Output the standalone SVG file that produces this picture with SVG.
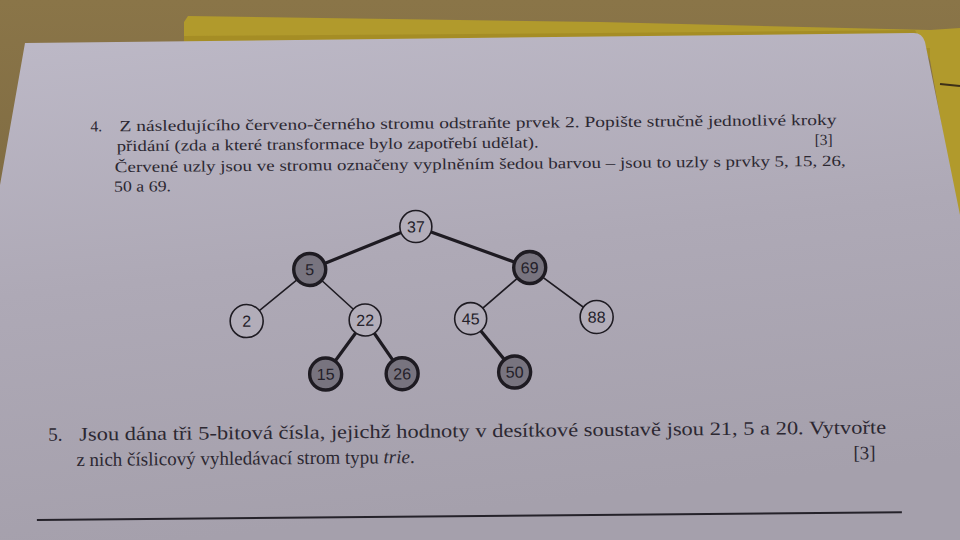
<svg xmlns="http://www.w3.org/2000/svg" width="960" height="540" viewBox="0 0 960 540">
  <defs>
    <linearGradient id="bg" x1="0" y1="0" x2="0" y2="1">
      <stop offset="0" stop-color="#8a7548"/>
      <stop offset="1" stop-color="#6f5d3a"/>
    </linearGradient>
    <linearGradient id="paper" x1="0" y1="0" x2="0.2" y2="1">
      <stop offset="0" stop-color="#bdb9c7"/>
      <stop offset="0.5" stop-color="#aea9b6"/>
      <stop offset="1" stop-color="#a5a0ac"/>
    </linearGradient>
    <style>
      .q4 { font-family: "Liberation Serif", "DejaVu Serif", "Times New Roman", serif; font-size: 15.5px; fill: #2c2832; }
      .q5 { font-family: "Liberation Serif", "DejaVu Serif", "Times New Roman", serif; font-size: 19px; fill: #2c2832; }
      .edge { stroke: #1e1b22; stroke-linecap: round; fill: none; }
      .thin { stroke-width: 1.6; }
      .thick { stroke-width: 3.2; }
      .blk circle { fill: #b2adb9; stroke: #1e1b22; stroke-width: 1.6; }
      .red circle { fill: #78747f; stroke: #1e1b22; stroke-width: 3.4; }
      .lbl { font-family: "Liberation Sans", Arial, sans-serif; font-size: 16px; fill: #24212a; text-anchor: middle; }
    </style>
  </defs>

  <!-- background -->
  <rect x="0" y="0" width="960" height="540" fill="url(#bg)"/>
  <!-- yellow folder behind the sheet -->
  <polygon points="184,22 188,16 600,22 930,30 960,28 960,230 930,60 920,40 184,46" fill="#b19a2c"/>
  <polygon points="184,46 184,36 600,33 915,30 930,60 930,48 600,40" fill="#9d8622" opacity="0.6"/>
  <line x1="940" y1="84" x2="960" y2="86" stroke="#3d3018" stroke-width="2"/>

  <!-- sheet of paper -->
  <path d="M25,43 L912,33 Q922,32 925,42 L960,215 L960,540 L0,540 L0,185 Z" fill="url(#paper)"/>

  <g transform="rotate(-0.5 480 300)">
    <!-- question 4 -->
    <g id="q4">
      <text class="q4" x="92" y="128">4.</text>
      <text class="q4" x="121" y="128" textLength="717" lengthAdjust="spacingAndGlyphs">Z následujícího červeno-černého stromu odstraňte prvek 2. Popište stručně jednotlivé kroky</text>
      <text class="q4" x="118" y="148" textLength="422" lengthAdjust="spacingAndGlyphs">přidání (zda a které transformace bylo zapotřebí udělat).</text>
      <text class="q4" x="816" y="148">[3]</text>
      <text class="q4" x="116" y="169" textLength="731" lengthAdjust="spacingAndGlyphs">Červené uzly jsou ve stromu označeny vyplněním šedou barvou – jsou to uzly s prvky 5, 15, 26,</text>
      <text class="q4" x="115" y="188.5" textLength="57" lengthAdjust="spacingAndGlyphs">50 a 69.</text>
    </g>

    <!-- connectors -->
    <g id="edges">
      <line class="edge thick" x1="416.5" y1="226" x2="310" y2="268"/>
      <line class="edge thick" x1="416.5" y1="226" x2="530" y2="268"/>
      <line class="edge thin" x1="310" y1="268" x2="246.5" y2="319"/>
      <line class="edge thin" x1="310" y1="268" x2="365" y2="319"/>
      <line class="edge thin" x1="530" y1="268" x2="470.5" y2="318.5"/>
      <line class="edge thin" x1="530" y1="268" x2="596.5" y2="318"/>
      <line class="edge thick" x1="365" y1="319" x2="325" y2="372.7"/>
      <line class="edge thick" x1="365" y1="319" x2="401.5" y2="373"/>
      <line class="edge thick" x1="470.5" y1="318.5" x2="514" y2="372.3"/>
    </g>

    <!-- nodes -->
    <g id="n37" class="blk"><circle cx="416.5" cy="226" r="16"/><text class="lbl" x="416.5" y="231.8">37</text></g>
    <g id="n5" class="red"><circle cx="310" cy="268" r="16"/><text class="lbl" x="310" y="273.8">5</text></g>
    <g id="n69" class="red"><circle cx="530" cy="268" r="16"/><text class="lbl" x="530" y="273.8">69</text></g>
    <g id="n2" class="blk"><circle cx="246.5" cy="319" r="16.5"/><text class="lbl" x="246.5" y="324.8">2</text></g>
    <g id="n22" class="blk"><circle cx="365" cy="319" r="16"/><text class="lbl" x="365" y="324.8">22</text></g>
    <g id="n45" class="blk"><circle cx="470.5" cy="318.5" r="16"/><text class="lbl" x="470.5" y="324.3">45</text></g>
    <g id="n88" class="blk"><circle cx="596.5" cy="318" r="16.5"/><text class="lbl" x="596.5" y="323.8">88</text></g>
    <g id="n15" class="red"><circle cx="325" cy="372.7" r="16"/><text class="lbl" x="325" y="378.5">15</text></g>
    <g id="n26" class="red"><circle cx="401.5" cy="373" r="16"/><text class="lbl" x="401.5" y="378.8">26</text></g>
    <g id="n50" class="red"><circle cx="514" cy="372.3" r="16"/><text class="lbl" x="514" y="378.1">50</text></g>

    <!-- question 5 -->
    <g id="q5">
      <text class="q5" x="47" y="437">5.</text>
      <text class="q5" x="78" y="437" textLength="807" lengthAdjust="spacingAndGlyphs">Jsou dána tři 5-bitová čísla, jejichž hodnoty v desítkové soustavě jsou 21, 5 a 20. Vytvořte</text>
      <text class="q5" x="75" y="462.5">z nich číslicový vyhledávací strom typu <tspan font-style="italic">trie</tspan>.</text>
      <text class="q5" x="852" y="462.5">[3]</text>
    </g>

    <!-- rule at the bottom -->
    <line x1="35" y1="516" x2="900" y2="516" stroke="#25222a" stroke-width="2"/>
  </g>
</svg>
